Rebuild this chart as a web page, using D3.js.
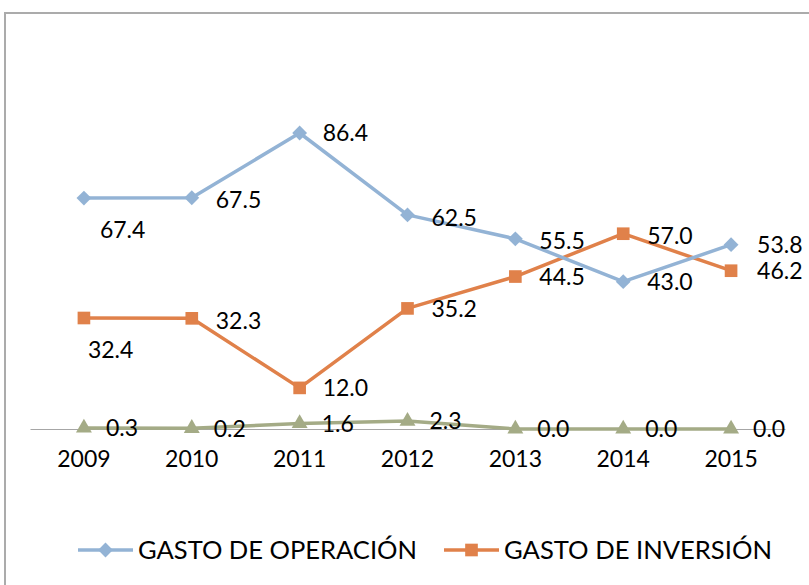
<!DOCTYPE html>
<html><head><meta charset="utf-8">
<script src="https://cdn.jsdelivr.net/npm/d3@7"></script>
<style>
html,body{margin:0;padding:0;background:#fff;}
svg{display:block;}
text{font-family:Lato,"Open Sans",sans-serif;fill:#000;}
</style></head>
<body>
<svg id="c" width="809" height="585"></svg>
<script>
const years = ["2009","2010","2011","2012","2013","2014","2015"];
const operacion = [67.4, 67.5, 86.4, 62.5, 55.5, 43.0, 53.8];
const inversion = [32.4, 32.3, 12.0, 35.2, 44.5, 57.0, 46.2];
const otros = [0.3, 0.2, 1.6, 2.3, 0.0, 0.0, 0.0];
const seriesNames = ["GASTO DE OPERACIÓN", "GASTO DE INVERSIÓN", ""];

// label placement styles (offsets relative to each point)
const opLabelOffsets = [[16,32],[24,2],[23,0],[24,3],[24,2],[24,0],[26,0]];
const invLabelOffsets = [[4,32],[24,2],[23,0],[24,0],[24,0],[24,2],[26,0]];
const otLabelOffsets = [[22,0],[22,0],[22,0],[22,0],[22,0],[22,0],[22,0]];

const svg = d3.select("#c");
const W = 809, H = 585;

// outer border
svg.append("rect").attr("x",5).attr("y",13).attr("width",W+10).attr("height",H+10)
  .attr("fill","none").attr("stroke","#ababab").attr("stroke-width",2);

const x = d3.scaleBand().domain(years).range([30, 785]);
const y = d3.scaleLinear().domain([0, 100]).range([429, 86.4]);
const cx = d => x(d) + x.bandwidth()/2;

// x axis
const ax = svg.append("g").attr("transform",`translate(0,${y(0)})`)
  .call(d3.axisBottom(x).tickSize(0).tickPadding(22));
ax.select(".domain").attr("stroke","#a6a6a6").attr("stroke-width",1.2);
ax.selectAll("text").attr("font-size",23).attr("font-family","Lato, sans-serif").attr("fill","#000");

const colors = ["#93B3D5", "#E0814A", "#A4AB86"];
const line = d3.line().x(d => cx(d.k)).y(d => y(d.v));

const series = [
  {vals: operacion, color: colors[0], marker: "diamond", offs: opLabelOffsets},
  {vals: inversion, color: colors[1], marker: "square", offs: invLabelOffsets},
  {vals: otros, color: colors[2], marker: "triangle", offs: otLabelOffsets}
];

const sym = {
  diamond: d3.symbol().type(d3.symbolDiamond2).size(140),
  square: d3.symbol().type(d3.symbolSquare).size(160),
  triangle: d3.symbol().type(d3.symbolTriangle).size(110)
};

[2,1,0].forEach(i => {
  const s = series[i];
  const pts = years.map((k,j) => ({k, v: s.vals[j]}));
  const g = svg.append("g");
  g.append("path").datum(pts).attr("d", line).attr("fill","none")
    .attr("stroke", s.color).attr("stroke-width",3.5).attr("stroke-linejoin","round");
  g.selectAll("path.m").data(pts).join("path").attr("class","m")
    .attr("transform", d => `translate(${cx(d.k)},${y(d.v)})`)
    .attr("d", sym[s.marker]).attr("fill", s.color);
});
[2,1,0].forEach(i => {
  const s = series[i];
  svg.append("g").selectAll("text").data(years).join("text")
    .attr("x", (k,j) => cx(k) + s.offs[j][0])
    .attr("y", (k,j) => y(s.vals[j]) + s.offs[j][1])
    .attr("dy","0.36em").attr("font-size",23)
    .text((k,j) => d3.format(".1f")(s.vals[j]));
});

// legend
const legend = [
  {name: seriesNames[0], color: colors[0], marker: "diamond", x: 78, len: 279},
  {name: seriesNames[1], color: colors[1], marker: "square", x: 444, len: 268}
];
const ly = 550;
legend.forEach(l => {
  const g = svg.append("g").attr("transform",`translate(${l.x},${ly})`);
  g.append("line").attr("x1",0).attr("x2",55).attr("y1",0).attr("y2",0)
    .attr("stroke",l.color).attr("stroke-width",3.5);
  g.append("path").attr("transform","translate(27.5,0)").attr("d", sym[l.marker]).attr("fill",l.color);
  g.append("text").attr("x",60).attr("y",0).attr("dy","0.36em").attr("font-size",25)
    .attr("textLength", l.len).attr("lengthAdjust","spacingAndGlyphs").text(l.name);
});
</script>
</body></html>
